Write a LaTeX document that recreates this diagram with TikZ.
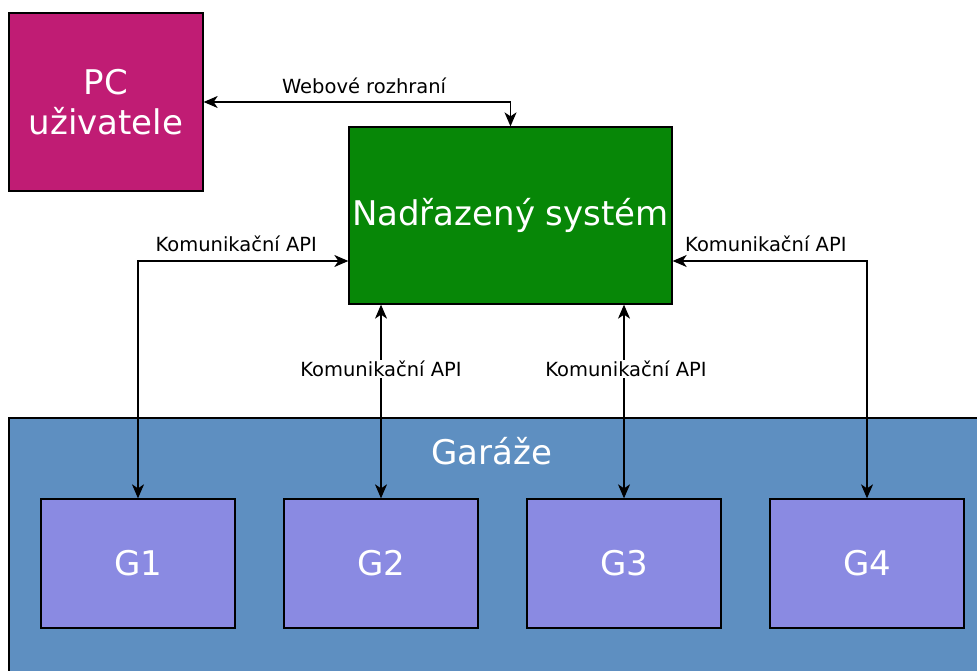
\documentclass[tikz,border=0pt]{standalone}
\usepackage{fontspec}
\setmainfont{DejaVu Sans}
\usetikzlibrary{arrows.meta}
\definecolor{pcmag}{HTML}{C01C74}
\definecolor{nadgreen}{HTML}{078707}
\definecolor{garblue}{HTML}{5E8FC1}
\definecolor{gpurple}{HTML}{8A8AE2}
\tikzset{
  box/.style={draw=black, line width=1.3pt, inner sep=0pt, text=white, font=\fontsize{34}{40}\selectfont, align=center},
  lbl/.style={font=\fontsize{19.5}{23}\selectfont, text=black, inner sep=1pt},
  conn/.style={line width=1.3pt, {Stealth[length=14pt,width=12pt,inset=4pt]}-{Stealth[length=14pt,width=12pt,inset=4pt]}}
}
\begin{document}
\begin{tikzpicture}[x=1pt,y=-1pt]
\useasboundingbox (0,0) rectangle (977,671);
\clip (0,0) rectangle (977,671);
\fill[white] (0,0) rectangle (977,671);
\node[box, fill=garblue, minimum width=981pt, minimum height=272pt] (gar) at (499.5,554) {};
\node[text=white, font=\fontsize{34}{40}\selectfont] (gartext) at (492,451) {Garáže};
\node[box, fill=pcmag, minimum width=194pt, minimum height=178pt] (pc) at (106,102) {PC\\uživatele};
\node[box, fill=nadgreen, minimum width=323pt, minimum height=177pt] (nad) at (510.5,215.5) {Nadřazený systém};
\node[box, fill=gpurple, minimum width=194pt, minimum height=129pt] (g1) at (138,563.5) {G1};
\node[box, fill=gpurple, minimum width=194pt, minimum height=129pt] (g2) at (381,563.5) {G2};
\node[box, fill=gpurple, minimum width=194pt, minimum height=129pt] (g3) at (624,563.5) {G3};
\node[box, fill=gpurple, minimum width=194pt, minimum height=129pt] (g4) at (867,563.5) {G4};
\draw[conn] (pc.east) -| node[lbl, pos=0.25, above=7pt, xshift=7pt] {Webové rozhraní} (nad.north);
\draw[conn] ([yshift=-45.5pt]nad.west) -| node[lbl, pos=0.25, above=8pt, xshift=-7pt] {Komunikační API} (g1.north);
\draw[conn] ([yshift=-45.5pt]nad.east) -| node[lbl, pos=0.25, above=8pt, xshift=-4pt] {Komunikační API} (g4.north);
\draw[conn] (g2.north |- nad.south) -- node[lbl, pos=0.33, fill=white] {Komunikační API} (g2.north);
\draw[conn] (g3.north |- nad.south) -- node[lbl, pos=0.33, fill=white, xshift=2pt] {Komunikační API} (g3.north);
\end{tikzpicture}
\end{document}
